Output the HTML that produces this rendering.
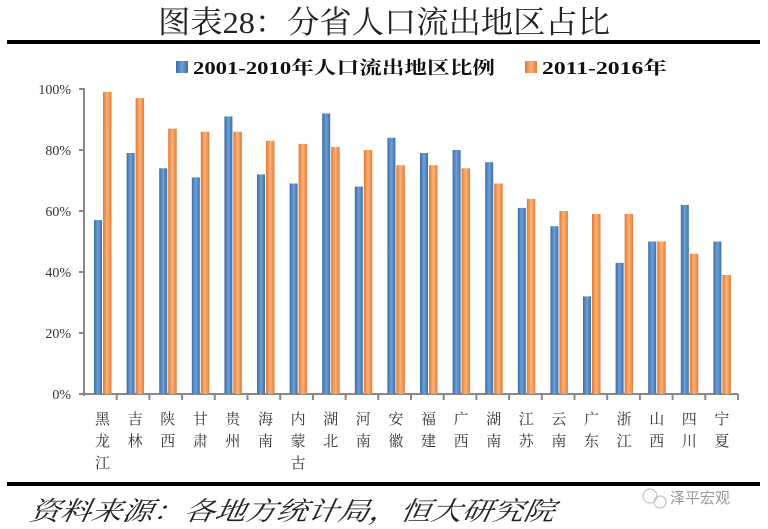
<!DOCTYPE html>
<html><head><meta charset="utf-8"><style>
body{margin:0;background:#fff;}
svg{display:block;}
</style></head><body>
<svg width="768" height="529" xmlns="http://www.w3.org/2000/svg">
<defs>
<linearGradient id="gb" x1="0" x2="1" y1="0" y2="0"><stop offset="0" stop-color="#3a6ea8"/><stop offset="0.5" stop-color="#6f9fd6"/><stop offset="1" stop-color="#3c6fa8"/></linearGradient>
<linearGradient id="go" x1="0" x2="1" y1="0" y2="0"><stop offset="0" stop-color="#e4782e"/><stop offset="0.5" stop-color="#fbb27a"/><stop offset="1" stop-color="#e57c33"/></linearGradient>
</defs>
<rect width="768" height="529" fill="#fff"/>
<text x="384" y="33" text-anchor="middle" font-family="'Liberation Serif','Noto Serif CJK SC',serif" font-size="31" fill="#222" textLength="452" lengthAdjust="spacingAndGlyphs">图表28：分省人口流出地区占比</text>
<rect x="7" y="40" width="753" height="4" fill="#000"/>
<rect x="176" y="61" width="12" height="12" fill="url(#gb)"/>
<text x="193" y="74" font-family="'Liberation Serif','Noto Serif CJK SC',serif" font-weight="bold" font-size="18" fill="#111" textLength="302" lengthAdjust="spacingAndGlyphs">2001-2010年人口流出地区比例</text>
<rect x="525" y="61" width="12" height="12" fill="url(#go)"/>
<text x="542" y="74" font-family="'Liberation Serif','Noto Serif CJK SC',serif" font-weight="bold" font-size="18" fill="#111" textLength="125" lengthAdjust="spacingAndGlyphs">2011-2016年</text>
<g font-family="'Liberation Serif',serif" font-size="14" fill="#333" text-anchor="end">
<text x="71" y="94">100%</text><text x="71" y="155">80%</text><text x="71" y="216">60%</text><text x="71" y="277">40%</text><text x="71" y="338">20%</text><text x="71" y="399">0%</text>
</g>
<g stroke="#888" stroke-width="2">
<line x1="84" y1="88" x2="84" y2="396"/>
<line x1="79" y1="89" x2="84" y2="89"/><line x1="79" y1="150" x2="84" y2="150"/><line x1="79" y1="211" x2="84" y2="211"/><line x1="79" y1="272" x2="84" y2="272"/><line x1="79" y1="333" x2="84" y2="333"/>
<line x1="79" y1="394" x2="738" y2="394"/>
<line x1="116.7" y1="394" x2="116.7" y2="400"/><line x1="149.4" y1="394" x2="149.4" y2="400"/><line x1="182.1" y1="394" x2="182.1" y2="400"/><line x1="214.8" y1="394" x2="214.8" y2="400"/><line x1="247.5" y1="394" x2="247.5" y2="400"/><line x1="280.2" y1="394" x2="280.2" y2="400"/><line x1="312.9" y1="394" x2="312.9" y2="400"/><line x1="345.6" y1="394" x2="345.6" y2="400"/><line x1="378.3" y1="394" x2="378.3" y2="400"/><line x1="411" y1="394" x2="411" y2="400"/><line x1="443.7" y1="394" x2="443.7" y2="400"/><line x1="476.4" y1="394" x2="476.4" y2="400"/><line x1="509.1" y1="394" x2="509.1" y2="400"/><line x1="541.8" y1="394" x2="541.8" y2="400"/><line x1="574.5" y1="394" x2="574.5" y2="400"/><line x1="607.2" y1="394" x2="607.2" y2="400"/><line x1="639.9" y1="394" x2="639.9" y2="400"/><line x1="672.6" y1="394" x2="672.6" y2="400"/><line x1="705.3" y1="394" x2="705.3" y2="400"/><line x1="738" y1="394" x2="738" y2="400"/>
</g>
<g fill="url(#gb)">
<rect x="94" y="220.1" width="8" height="173.9"/>
<rect x="126.6" y="153" width="8" height="241"/>
<rect x="159.2" y="168.3" width="8" height="225.7"/>
<rect x="191.8" y="177.4" width="8" height="216.6"/>
<rect x="224.4" y="116.4" width="8" height="277.6"/>
<rect x="257" y="174.4" width="8" height="219.6"/>
<rect x="289.6" y="183.5" width="8" height="210.5"/>
<rect x="322.2" y="113.4" width="8" height="280.6"/>
<rect x="354.8" y="186.6" width="8" height="207.4"/>
<rect x="387.4" y="137.8" width="8" height="256.2"/>
<rect x="420" y="153" width="8" height="241"/>
<rect x="452.6" y="150" width="8" height="244"/>
<rect x="485.2" y="162.2" width="8" height="231.8"/>
<rect x="517.8" y="207.9" width="8" height="186.1"/>
<rect x="550.4" y="226.2" width="8" height="167.8"/>
<rect x="583" y="296.4" width="8" height="97.6"/>
<rect x="615.6" y="262.8" width="8" height="131.2"/>
<rect x="648.2" y="241.5" width="8" height="152.5"/>
<rect x="680.8" y="204.9" width="8" height="189.1"/>
<rect x="713.4" y="241.5" width="8" height="152.5"/>
</g>
<g fill="url(#go)">
<rect x="103" y="92" width="8.5" height="302"/>
<rect x="135.6" y="98.1" width="8.5" height="295.9"/>
<rect x="168.2" y="128.6" width="8.5" height="265.4"/>
<rect x="200.8" y="131.7" width="8.5" height="262.3"/>
<rect x="233.4" y="131.7" width="8.5" height="262.3"/>
<rect x="266" y="140.8" width="8.5" height="253.2"/>
<rect x="298.6" y="143.9" width="8.5" height="250.1"/>
<rect x="331.2" y="146.9" width="8.5" height="247.1"/>
<rect x="363.8" y="150" width="8.5" height="244"/>
<rect x="396.4" y="165.2" width="8.5" height="228.8"/>
<rect x="429" y="165.2" width="8.5" height="228.8"/>
<rect x="461.6" y="168.3" width="8.5" height="225.7"/>
<rect x="494.2" y="183.5" width="8.5" height="210.5"/>
<rect x="526.8" y="198.8" width="8.5" height="195.2"/>
<rect x="559.4" y="211" width="8.5" height="183"/>
<rect x="592" y="214" width="8.5" height="180"/>
<rect x="624.6" y="214" width="8.5" height="180"/>
<rect x="657.2" y="241.5" width="8.5" height="152.5"/>
<rect x="689.8" y="253.7" width="8.5" height="140.3"/>
<rect x="722.4" y="275" width="8.5" height="119"/>
</g>
<g font-family="'Liberation Serif','Noto Serif CJK SC',serif" font-size="15" fill="#333" text-anchor="middle">
<text x="102.5" y="424">黑</text><text x="102.5" y="446">龙</text><text x="102.5" y="468">江</text>
<text x="135.1" y="424">吉</text><text x="135.1" y="446">林</text>
<text x="167.7" y="424">陕</text><text x="167.7" y="446">西</text>
<text x="200.3" y="424">甘</text><text x="200.3" y="446">肃</text>
<text x="232.9" y="424">贵</text><text x="232.9" y="446">州</text>
<text x="265.5" y="424">海</text><text x="265.5" y="446">南</text>
<text x="298.1" y="424">内</text><text x="298.1" y="446">蒙</text><text x="298.1" y="468">古</text>
<text x="330.7" y="424">湖</text><text x="330.7" y="446">北</text>
<text x="363.3" y="424">河</text><text x="363.3" y="446">南</text>
<text x="395.9" y="424">安</text><text x="395.9" y="446">徽</text>
<text x="428.5" y="424">福</text><text x="428.5" y="446">建</text>
<text x="461.1" y="424">广</text><text x="461.1" y="446">西</text>
<text x="493.7" y="424">湖</text><text x="493.7" y="446">南</text>
<text x="526.3" y="424">江</text><text x="526.3" y="446">苏</text>
<text x="558.9" y="424">云</text><text x="558.9" y="446">南</text>
<text x="591.5" y="424">广</text><text x="591.5" y="446">东</text>
<text x="624.1" y="424">浙</text><text x="624.1" y="446">江</text>
<text x="656.7" y="424">山</text><text x="656.7" y="446">西</text>
<text x="689.3" y="424">四</text><text x="689.3" y="446">川</text>
<text x="721.9" y="424">宁</text><text x="721.9" y="446">夏</text>
</g>
<rect x="7" y="482" width="753" height="4" fill="#000"/>
<text x="120" y="520" font-family="'Liberation Serif','Noto Serif CJK SC',serif" font-style="italic" font-size="26" fill="#222" transform="skewX(-10)" textLength="525" lengthAdjust="spacingAndGlyphs">资料来源：各地方统计局，恒大研究院</text>
<circle cx="650" cy="496" r="7" fill="none" stroke="#bbb"/>
<circle cx="660" cy="502" r="6" fill="none" stroke="#bbb"/>
<text x="670" y="503" font-family="'Noto Sans CJK SC',sans-serif" font-size="15" fill="#999">泽平宏观</text>
</svg>
</body></html>
